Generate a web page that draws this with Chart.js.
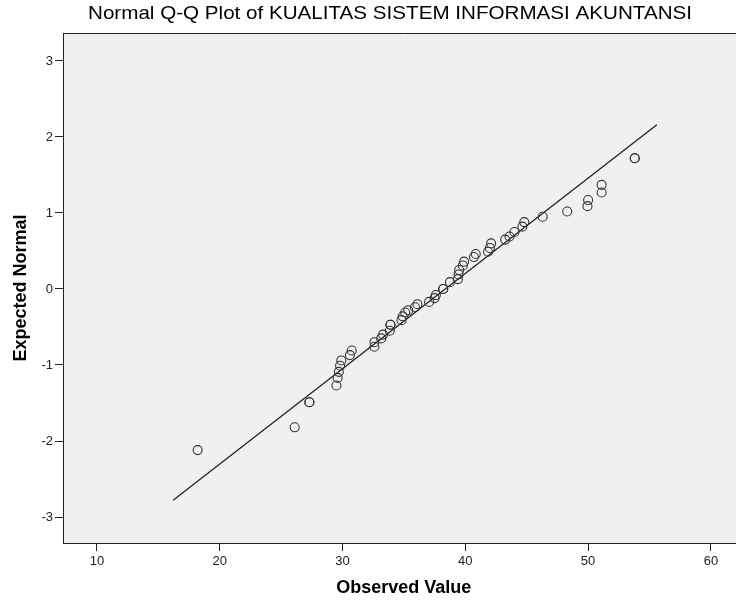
<!DOCTYPE html>
<html lang="en">
<head>
    <meta charset="UTF-8">
    <title>Normal Q-Q Plot</title>
    <script src="https://cdn.jsdelivr.net/npm/chart.js"></script>
    <style>
        html, body { margin: 0; padding: 0; overflow: hidden; background: #fff; }
    </style>
</head>
<body>
    <canvas id="qq" width="750" height="601"></canvas>

    <script>
        const observed = [18.2, 26.1, 27.3, 27.3, 29.5, 29.6, 29.7, 29.8, 29.9, 30.6,
            30.75, 32.6, 32.6, 33.15, 33.3, 33.85, 33.9, 33.9, 34.8, 34.9,
            35.1, 35.35, 35.9, 36.1, 37.05, 37.5, 37.6, 38.2, 38.2, 38.75,
            39.4, 39.45, 39.5, 39.8, 39.9, 40.7, 40.85, 41.85, 42.0, 42.1,
            43.25, 43.6, 44.0, 44.65, 44.8, 46.3, 48.3, 49.95, 50.0, 51.1,
            51.1, 53.8, 53.8];
        const expected = [-2.12, -1.82, -1.49, -1.49, -1.27, -1.17, -1.09, -1.01, -0.94, -0.87,
            -0.81, -0.76, -0.70, -0.65, -0.60, -0.55, -0.47, -0.47, -0.41, -0.36,
            -0.31, -0.28, -0.24, -0.20, -0.17, -0.12, -0.08, 0.0, 0.0, 0.09,
            0.13, 0.19, 0.25, 0.31, 0.36, 0.42, 0.46, 0.49, 0.54, 0.60,
            0.65, 0.69, 0.75, 0.82, 0.88, 0.95, 1.02, 1.09, 1.17, 1.27,
            1.37, 1.72, 1.72];

        // reference line end points
        const lineX = [16.2, 55.6];
        const lineY = [-2.78, 2.16];

        const xTicks = [10, 20, 30, 40, 50, 60];
        const yTicks = [-3, -2, -1, 0, 1, 2, 3];

        const titleText = 'Normal Q-Q Plot of KUALITAS SISTEM INFORMASI AKUNTANSI';
        const fontFam = "'Liberation Sans', Arial, sans-serif";

        const points = observed.map((v, i) => ({ x: v, y: expected[i] }));
        const refLine = lineX.map((v, i) => ({ x: v, y: lineY[i] }));

        // grey plot background, top border and title
        const frame = {
            id: 'frame',
            beforeDraw(chart) {
                const a = chart.chartArea;
                const c = chart.ctx;
                c.save();
                c.fillStyle = '#f0f0f0';
                c.fillRect(a.left, a.top, a.right - a.left, a.bottom - a.top);
                c.restore();
            },
            afterDraw(chart) {
                const a = chart.chartArea;
                const c = chart.ctx;
                c.save();
                c.strokeStyle = '#222';
                c.lineWidth = 1;
                c.beginPath();
                c.moveTo(a.left, a.top + 0.5);
                c.lineTo(a.right, a.top + 0.5);
                c.stroke();
                // title, stretched to the width it has in the original
                c.fillStyle = '#000';
                c.font = '19px ' + fontFam;
                c.textAlign = 'center';
                c.textBaseline = 'middle';
                const w = c.measureText(titleText).width;
                c.translate(390, 14);
                c.scale(604 / w, 1);
                c.fillText(titleText, 0, 0);
                c.restore();
            }
        };

        new Chart(document.getElementById('qq'), {
            type: 'scatter',
            data: {
                datasets: [{
                    data: points,
                    pointRadius: 4.5,
                    pointHoverRadius: 4.5,
                    borderColor: '#333',
                    borderWidth: 1.1,
                    backgroundColor: 'rgba(0,0,0,0)'
                }, {
                    type: 'line',
                    data: refLine,
                    borderColor: '#222',
                    borderWidth: 1.3,
                    pointRadius: 0,
                    fill: false
                }]
            },
            options: {
                responsive: false,
                animation: false,
                layout: { padding: { top: 33, right: 5, left: 0, bottom: 0 } },
                plugins: {
                    legend: { display: false },
                    tooltip: { enabled: false }
                },
                scales: {
                    x: {
                        type: 'linear',
                        min: 7.233,
                        max: 62.73,
                        afterFit: s => { s.height = 58; },
                        afterBuildTicks: s => { s.ticks = xTicks.map(v => ({ value: v })); },
                        grid: { drawOnChartArea: false, color: '#222', tickLength: 8 },
                        border: { color: '#222', width: 1 },
                        ticks: { color: '#222', padding: 3, font: { family: fontFam, size: 13 } },
                        title: {
                            display: true, text: 'Observed Value', color: '#000',
                            font: { family: fontFam, size: 18, weight: 'bold' },
                            padding: { top: 0, bottom: 2 }
                        }
                    },
                    y: {
                        type: 'linear',
                        min: -3.342,
                        max: 3.368,
                        afterFit: s => { s.width = 63; },
                        afterBuildTicks: s => { s.ticks = yTicks.map(v => ({ value: v })); },
                        grid: { drawOnChartArea: false, color: '#222', tickLength: 8 },
                        border: { color: '#222', width: 1 },
                        ticks: { color: '#222', padding: 2, font: { family: fontFam, size: 13 } },
                        title: {
                            display: true, text: 'Expected Normal', color: '#000',
                            font: { family: fontFam, size: 18, weight: 'bold' },
                            padding: { top: 10, bottom: 0 }
                        }
                    }
                }
            },
            plugins: [frame]
        });
    </script>
</body>
</html>
